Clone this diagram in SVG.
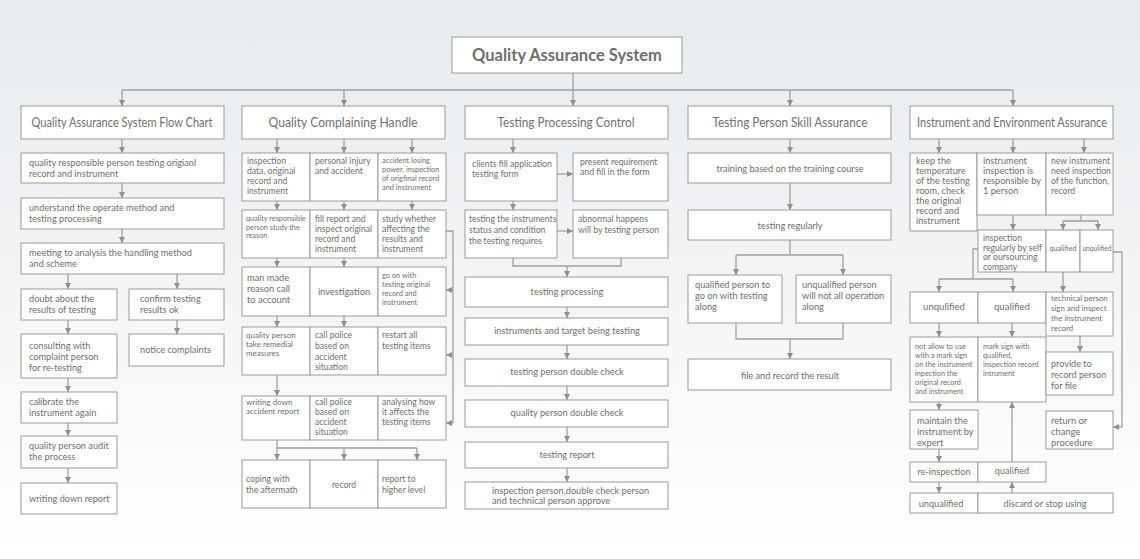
<svg xmlns="http://www.w3.org/2000/svg" width="1140" height="559" viewBox="0 0 1140 559">
<defs>
<linearGradient id="bg" x1="0" y1="0" x2="0" y2="1">
<stop offset="0" stop-color="#e9eaec"/>
<stop offset="0.45" stop-color="#f3f3f4"/>
<stop offset="1" stop-color="#ffffff"/>
</linearGradient>
<marker id="ah" markerUnits="userSpaceOnUse" markerWidth="7" markerHeight="7" refX="6" refY="3" orient="auto">
<path d="M0,0 L6,3 L0,6 z" fill="#8f8f8f"/>
</marker>
<style>
rect.b{fill:#fff;stroke:#9a9a9a;stroke-width:1}
text{font-family:Lato,"Open Sans","Liberation Sans",sans-serif;fill:#6e6e6e;font-size:9.2px;font-weight:400}
.h{font-size:12.5px;font-weight:400;fill:#707070}
.c{text-anchor:middle}
.m{font-size:8.6px}
.n{font-size:7.4px}
#connectors path{stroke:#a0a0a0;stroke-width:1.3;fill:none}
#connectors path.a{marker-end:url(#ah)}
</style>
</defs>
<rect width="1140" height="559" fill="url(#bg)"/>

<g id="connectors">
<path d="M122,90 H1013"/>
<path class="a" d="M573,73 V106"/>
<path class="a" d="M122,90 V106"/>
<path class="a" d="M344,90 V106"/>
<path class="a" d="M790,90 V106"/>
<path class="a" d="M1013,90 V106"/>
<path class="a" d="M122,139 V153"/>
<path class="a" d="M122,183 V198"/>
<path class="a" d="M122,229 V243"/>
<path class="a" d="M68,274 V289"/>
<path class="a" d="M177,274 V289"/>
<path class="a" d="M68,320 V334"/>
<path class="a" d="M177,320 V334"/>
<path class="a" d="M68,378 V392"/>
<path class="a" d="M68,423 V436"/>
<path class="a" d="M68,468 V483"/>
<path class="a" d="M277,139 V153"/>
<path class="a" d="M344,139 V153"/>
<path class="a" d="M412,139 V153"/>
<path class="a" d="M277,201 V210"/>
<path class="a" d="M344,201 V210"/>
<path class="a" d="M412,201 V210"/>
<path class="a" d="M277,258 V267"/>
<path class="a" d="M344,258 V267"/>
<path class="a" d="M277,316 V327"/>
<path class="a" d="M344,316 V327"/>
<path class="a" d="M277,375 V396"/>
<path d="M277,440 V448 H417"/>
<path class="a" d="M277,448 V460"/>
<path class="a" d="M344,448 V460"/>
<path class="a" d="M417,448 V460"/>
<path d="M446,231 H453 V423"/>
<path class="a" d="M453,290 H446"/>
<path class="a" d="M453,355 H446"/>
<path class="a" d="M453,423 H446"/>
<path class="a" d="M513,139 V153"/>
<path class="a" d="M557,174 H573"/>
<path class="a" d="M513,201 V210"/>
<path class="a" d="M557,231 H573"/>
<path d="M513,258 V266 H621 V258"/>
<path class="a" d="M567,266 V277"/>
<path class="a" d="M567,307 V318"/>
<path class="a" d="M567,345 V359"/>
<path class="a" d="M567,386 V400"/>
<path class="a" d="M567,427 V442"/>
<path class="a" d="M567,468 V482"/>
<path class="a" d="M790,139 V153"/>
<path class="a" d="M790,183 V210"/>
<path d="M790,240 V255 M736,255 H843"/>
<path class="a" d="M736,255 V275"/>
<path class="a" d="M843,255 V275"/>
<path d="M736,323 V339 H843 V323"/>
<path class="a" d="M790,339 V359"/>
<path class="a" d="M939,139 V153"/>
<path class="a" d="M1013,139 V153"/>
<path class="a" d="M1084,139 V153"/>
<path class="a" d="M1013,215 V230"/>
<path d="M1081,215 V221 M1063,221 H1098"/>
<path class="a" d="M1063,221 V230"/>
<path class="a" d="M1098,221 V230"/>
<path d="M978,249 H973 V279 M939,279 H1013"/>
<path class="a" d="M939,279 V292"/>
<path class="a" d="M1013,279 V292"/>
<path class="a" d="M1063,272 V292"/>
<path d="M1113,252 H1122 V427"/>
<path class="a" d="M1122,427 H1113"/>
<path class="a" d="M939,323 V337"/>
<path class="a" d="M1012,323 V337"/>
<path class="a" d="M1080,336 V352"/>
<path class="a" d="M939,402 V410"/>
<path class="a" d="M939,449 V462"/>
<path class="a" d="M939,482 V493"/>
<path class="a" d="M972,504 H988"/>
<path class="a" d="M1012,462 V402"/>
<path class="a" d="M1012,493 V482"/>
</g>

<g id="title"><rect class="b" x="452" y="37" width="230" height="36"/><text x="567" y="61" class="c" style="font-size:16.5px;font-weight:bold">Quality Assurance System</text></g>

<g id="h1"><rect class="b" x="21" y="106" width="203" height="33"/><text x="122" y="127" class="c h" textLength="181" lengthAdjust="spacingAndGlyphs">Quality Assurance System Flow Chart</text></g>
<g id="h2"><rect class="b" x="242" y="106" width="203" height="33"/><text x="343" y="127" class="c h" textLength="149" lengthAdjust="spacingAndGlyphs">Quality Complaining Handle</text></g>
<g id="h3"><rect class="b" x="465" y="106" width="203" height="33"/><text x="566" y="127" class="c h" textLength="137" lengthAdjust="spacingAndGlyphs">Testing Processing Control</text></g>
<g id="h4"><rect class="b" x="688" y="106" width="203" height="33"/><text x="790" y="127" class="c h" textLength="155" lengthAdjust="spacingAndGlyphs">Testing Person Skill Assurance</text></g>
<g id="h5"><rect class="b" x="910" y="106" width="203" height="33"/><text x="1012" y="127" class="c h" textLength="190" lengthAdjust="spacingAndGlyphs">Instrument and Environment Assurance</text></g>

<g id="a1"><rect class="b" x="21" y="153" width="203" height="30"/><text x="29" y="166">quality responsible person testing origianl</text><text x="29" y="177">record and instrument</text></g>
<g id="a2"><rect class="b" x="21" y="198" width="203" height="31"/><text x="29" y="211">understand the operate method and</text><text x="29" y="222">testing processing</text></g>
<g id="a3"><rect class="b" x="21" y="243" width="203" height="31"/><text x="29" y="256">meeting to analysis the handling method</text><text x="29" y="267">and scheme</text></g>
<g id="a4"><rect class="b" x="21" y="289" width="96" height="31"/><text x="29" y="302">doubt about the</text><text x="29" y="313">results of testing</text></g>
<g id="a5"><rect class="b" x="129" y="289" width="95" height="31"/><text x="140" y="302">confirm testing</text><text x="140" y="313">results ok</text></g>
<g id="a6"><rect class="b" x="21" y="334" width="96" height="44"/><text x="29" y="349">consulting with</text><text x="29" y="360">complaint person</text><text x="29" y="371">for re-testing</text></g>
<g id="a7"><rect class="b" x="129" y="334" width="95" height="32"/><text x="140" y="353">notice complaints</text></g>
<g id="a8"><rect class="b" x="21" y="392" width="96" height="31"/><text x="29" y="405">calibrate the</text><text x="29" y="416">instrument again</text></g>
<g id="a9"><rect class="b" x="21" y="436" width="96" height="32"/><text x="29" y="449">quality person audit</text><text x="29" y="460">the process</text></g>
<g id="a10"><rect class="b" x="21" y="483" width="96" height="31"/><text x="29" y="502">writing down report</text></g>

<g id="q11"><rect class="b" x="242" y="153" width="68" height="48"/><text x="247" y="164" class="m">inspection</text><text x="247" y="174" class="m">data, original</text><text x="247" y="184" class="m">record and</text><text x="247" y="194" class="m">instrument</text></g>
<g id="q12"><rect class="b" x="310" y="153" width="68" height="48"/><text x="315" y="164" class="m">personal injury</text><text x="315" y="174" class="m">and accident</text></g>
<g id="q13"><rect class="b" x="378" y="153" width="68" height="48"/><text x="382" y="163" class="n">accident losing</text><text x="382" y="172" class="n">power, inspection</text><text x="382" y="181" class="n">of origfinal record</text><text x="382" y="190" class="n">and instrument</text></g>
<g id="q21"><rect class="b" x="242" y="210" width="68" height="48"/><text x="246" y="221" style="font-size:7.3px">quality responsible</text><text x="246" y="229.5" style="font-size:7.3px">person study the</text><text x="246" y="238" style="font-size:7.3px">reason</text></g>
<g id="q22"><rect class="b" x="310" y="210" width="68" height="48"/><text x="315" y="222" class="m">fill report and</text><text x="315" y="232" class="m">inspect original</text><text x="315" y="242" class="m">record and</text><text x="315" y="252" class="m">instrument</text></g>
<g id="q23"><rect class="b" x="378" y="210" width="68" height="48"/><text x="382" y="222" class="m">study whether</text><text x="382" y="232" class="m">affecting the</text><text x="382" y="242" class="m">results and</text><text x="382" y="252" class="m">instrument</text></g>
<g id="q31"><rect class="b" x="242" y="267" width="68" height="49"/><text x="247" y="281" style="font-size:9.3px">man made</text><text x="247" y="292" style="font-size:9.3px">reason call</text><text x="247" y="303" style="font-size:9.3px">to account</text></g>
<g id="q32"><rect class="b" x="310" y="267" width="68" height="49"/><text x="344" y="295" class="c" style="font-size:9.3px">investigation</text></g>
<g id="q33"><rect class="b" x="378" y="267" width="68" height="49"/><text x="382" y="278" class="n">go on with</text><text x="382" y="287" class="n">testing original</text><text x="382" y="296" class="n">record and</text><text x="382" y="305" class="n">instrument</text></g>
<g id="q41"><rect class="b" x="242" y="327" width="68" height="48"/><text x="246" y="338" style="font-size:8px">quality person</text><text x="246" y="347" style="font-size:8px">take remedial</text><text x="246" y="356" style="font-size:8px">measures</text></g>
<g id="q42"><rect class="b" x="310" y="327" width="68" height="48"/><text x="315" y="338" class="m">call police</text><text x="315" y="349" class="m">based on</text><text x="315" y="360" class="m">accident</text><text x="315" y="370" class="m">situation</text></g>
<g id="q43"><rect class="b" x="378" y="327" width="68" height="48"/><text x="382" y="338" class="m">restart all</text><text x="382" y="349" class="m">testing items</text></g>
<g id="q51"><rect class="b" x="242" y="396" width="68" height="44"/><text x="246" y="405" style="font-size:8px">writing down</text><text x="246" y="414" style="font-size:8px">accident report</text></g>
<g id="q52"><rect class="b" x="310" y="396" width="68" height="44"/><text x="315" y="405" class="m">call police</text><text x="315" y="415" class="m">based on</text><text x="315" y="425" class="m">accident</text><text x="315" y="435" class="m">situation</text></g>
<g id="q53"><rect class="b" x="378" y="396" width="68" height="44"/><text x="382" y="405" class="m">analysing how</text><text x="382" y="415" class="m">it affects the</text><text x="382" y="425" class="m">testing items</text></g>
<g id="q61"><rect class="b" x="242" y="460" width="68" height="48"/><text x="246" y="482" class="m">coping with</text><text x="246" y="493" class="m">the aftermath</text></g>
<g id="q62"><rect class="b" x="310" y="460" width="68" height="48"/><text x="344" y="488" class="c m">record</text></g>
<g id="q63"><rect class="b" x="378" y="460" width="68" height="48"/><text x="382" y="482" class="m">report to</text><text x="382" y="493" class="m">higher level</text></g>

<g id="t1"><rect class="b" x="465" y="153" width="92" height="48"/><text x="472" y="167" style="font-size:8.7px">clients fill application</text><text x="472" y="177" style="font-size:8.7px">testing form</text></g>
<g id="t1b"><rect class="b" x="573" y="153" width="95" height="48"/><text x="580" y="165" style="font-size:8.7px">present requirement</text><text x="580" y="175" style="font-size:8.7px">and fill in the form</text></g>
<g id="t2"><rect class="b" x="465" y="210" width="92" height="48"/><text x="469" y="222" style="font-size:8.6px">testing the instruments</text><text x="469" y="233" style="font-size:8.6px">status and condition</text><text x="469" y="244" style="font-size:8.6px">the testing requires</text></g>
<g id="t2b"><rect class="b" x="573" y="210" width="95" height="48"/><text x="578" y="222" style="font-size:8.7px">abnormal happens</text><text x="578" y="233" style="font-size:8.7px">will by testing person</text></g>
<g id="t3"><rect class="b" x="465" y="277" width="203" height="30"/><text x="567" y="295" class="c">testing processing</text></g>
<g id="t4"><rect class="b" x="465" y="318" width="203" height="27"/><text x="567" y="334" class="c">instruments and target being testing</text></g>
<g id="t5"><rect class="b" x="465" y="359" width="203" height="27"/><text x="567" y="375" class="c">testing person double check</text></g>
<g id="t6"><rect class="b" x="465" y="400" width="203" height="27"/><text x="567" y="416" class="c">quality person double check</text></g>
<g id="t7"><rect class="b" x="465" y="442" width="203" height="26"/><text x="567" y="458" class="c">testing report</text></g>
<g id="t8"><rect class="b" x="465" y="482" width="203" height="27"/><text x="492" y="494">inspection person,double check person</text><text x="492" y="504">and technical person approve</text></g>

<g id="s1"><rect class="b" x="688" y="153" width="203" height="30"/><text x="790" y="172" class="c">training based on the training course</text></g>
<g id="s2"><rect class="b" x="688" y="210" width="203" height="30"/><text x="790" y="229" class="c">testing regularly</text></g>
<g id="s3"><rect class="b" x="688" y="275" width="94" height="48"/><text x="695" y="288">qualified person to</text><text x="695" y="299">go on with testing</text><text x="695" y="310">along</text></g>
<g id="s4"><rect class="b" x="796" y="275" width="95" height="48"/><text x="802" y="288">unqualified person</text><text x="802" y="299">will not all operation</text><text x="802" y="310">along</text></g>
<g id="s5"><rect class="b" x="688" y="359" width="203" height="31"/><text x="790" y="379" class="c">file and record the result</text></g>

<g id="e11"><rect class="b" x="910" y="153" width="67" height="78"/><text x="916" y="164">keep the</text><text x="916" y="174">temperature</text><text x="916" y="184">of the testing</text><text x="916" y="194">room, check</text><text x="916" y="204"> the original</text><text x="916" y="214">record and</text><text x="916" y="224">instrument</text></g>
<g id="e12"><rect class="b" x="977" y="153" width="69" height="62"/><text x="983" y="164">instrument</text><text x="983" y="174">inspection is</text><text x="983" y="184">responsible by</text><text x="983" y="194">1 person</text></g>
<g id="e13"><rect class="b" x="1046" y="153" width="67" height="62"/><text x="1051" y="164" class="m">new instrument</text><text x="1051" y="174" class="m">need inspection</text><text x="1051" y="184" class="m">of the function,</text><text x="1051" y="194" class="m">record</text></g>
<g id="e21"><rect class="b" x="978" y="230" width="68" height="42"/><text x="983" y="241" class="m">inspection</text><text x="983" y="250.5" class="m">regularly by self</text><text x="983" y="260" class="m">or oursourcing</text><text x="983" y="269.5" class="m">company</text></g>
<g id="e22"><rect class="b" x="1046" y="230" width="34" height="42"/><text x="1063" y="251" class="c" style="font-size:7.2px">qualified</text></g>
<g id="e23"><rect class="b" x="1080" y="230" width="33" height="42"/><text x="1097" y="251" class="c" style="font-size:6.7px">unqulified</text></g>
<g id="e31"><rect class="b" x="910" y="292" width="68" height="31"/><text x="944" y="310" class="c" style="font-size:9.6px">unqulified</text></g>
<g id="e32"><rect class="b" x="978" y="292" width="68" height="31"/><text x="1012" y="310" class="c" style="font-size:9.6px">qualified</text></g>
<g id="e33"><rect class="b" x="1046" y="292" width="67" height="44"/><text x="1051" y="301" style="font-size:7.9px">technical person</text><text x="1051" y="311" style="font-size:7.9px">sign and inspect</text><text x="1051" y="321" style="font-size:7.9px">the instrument</text><text x="1051" y="331" style="font-size:7.9px">record</text></g>
<g id="e41"><rect class="b" x="910" y="337" width="68" height="65"/><text x="915" y="349" style="font-size:7.3px">not allow to use</text><text x="915" y="358" style="font-size:7.3px">with a mark sign</text><text x="915" y="367" style="font-size:7.3px">on the instrument</text><text x="915" y="376" style="font-size:7.3px">inpection the</text><text x="915" y="385" style="font-size:7.3px">original record</text><text x="915" y="394" style="font-size:7.3px">and instrument</text></g>
<g id="e42"><rect class="b" x="978" y="337" width="68" height="65"/><text x="983" y="349" style="font-size:7.3px">mark sign with</text><text x="983" y="358" style="font-size:7.3px">qualified,</text><text x="983" y="367" style="font-size:7.3px">inspection record</text><text x="983" y="376" style="font-size:7.3px">intrument</text></g>
<g id="e43"><rect class="b" x="1046" y="352" width="67" height="43"/><text x="1051" y="367" style="font-size:9.1px">provide to</text><text x="1051" y="378" style="font-size:9.1px">record person</text><text x="1051" y="389" style="font-size:9.1px">for file</text></g>
<g id="e51"><rect class="b" x="910" y="410" width="68" height="39"/><text x="917" y="424" style="font-size:9.3px">maintain the</text><text x="917" y="435" style="font-size:9.3px">instrument by</text><text x="917" y="446" style="font-size:9.3px">expert</text></g>
<g id="e53"><rect class="b" x="1046" y="411" width="67" height="38"/><text x="1051" y="424" style="font-size:9.3px">return or</text><text x="1051" y="435" style="font-size:9.3px">change</text><text x="1051" y="446" style="font-size:9.3px">procedure</text></g>
<g id="e61"><rect class="b" x="910" y="462" width="68" height="20"/><text x="944" y="475" class="c">re-inspection</text></g>
<g id="e62"><rect class="b" x="978" y="462" width="68" height="20"/><text x="1012" y="474" class="c">qualified</text></g>
<g id="e71"><rect class="b" x="910" y="493" width="68" height="20"/><text x="941" y="507" class="c">unqualified</text></g>
<g id="e72"><rect class="b" x="978" y="493" width="135" height="20"/><text x="1045" y="507" class="c">discard or stop using</text></g>
</svg>
